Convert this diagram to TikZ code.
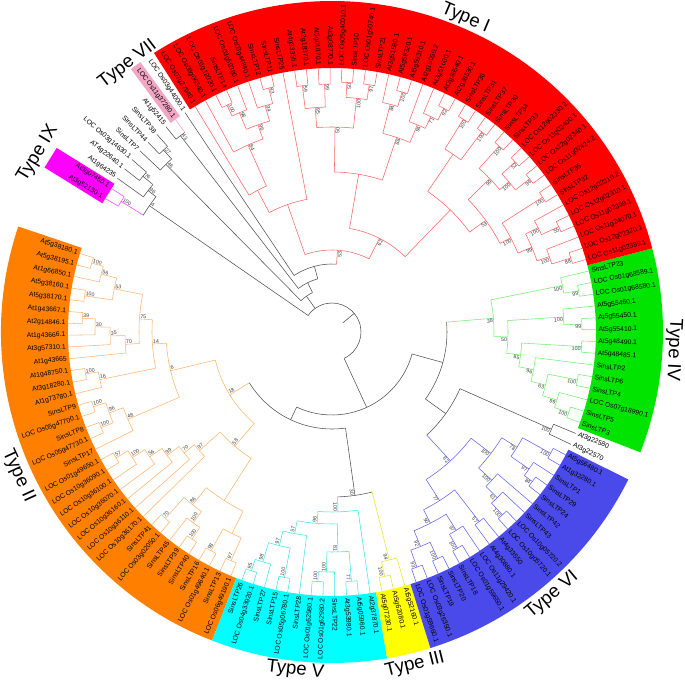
\documentclass[tikz,border=0pt]{standalone}
\usepackage{fontspec}
\setmainfont{Liberation Sans}
\definecolor{redB}{HTML}{FF0000}
\definecolor{redL}{HTML}{FF6464}
\definecolor{orgB}{HTML}{FF8000}
\definecolor{orgL}{HTML}{FFB46E}
\definecolor{cyaB}{HTML}{00FFFF}
\definecolor{cyaL}{HTML}{3CE6E6}
\definecolor{yelB}{HTML}{FFFF00}
\definecolor{yelL}{HTML}{E6E628}
\definecolor{bluB}{HTML}{4A4AEA}
\definecolor{bluL}{HTML}{6464F0}
\definecolor{grnB}{HTML}{00E400}
\definecolor{grnL}{HTML}{6EEE6E}
\definecolor{magB}{HTML}{FF00FF}
\definecolor{magL}{HTML}{FF46FF}
\definecolor{pnkB}{HTML}{F2A6C4}
\definecolor{gryL}{HTML}{505050}
\definecolor{bsG}{HTML}{404040}
\newcount\bscount
% bootstrap value at a node
\newcommand\bsl[3]{\if\relax\detokenize{#3}\relax\else
 \pgfmathsetmacro\myBc{cos(#1)}\global\advance\bscount by 1
 \ifdim\myBc pt>0pt \node[bst,rotate=#1,anchor=north east] (bs\the\bscount) at (#1:#2) {#3};%
 \else \node[bst,rotate=#1+180,anchor=south west] (bs\the\bscount) at (#1:#2) {#3};\fi\fi}
% internal node: style, child pos a, child pos b, radius, parent radius, bootstrap
\newcommand\cl[6]{%
 \pgfmathsetmacro\myTa{162.7+2.569*(#2)}%
 \pgfmathsetmacro\myTb{162.7+2.569*(#3)}%
 \pgfmathsetmacro\myTm{162.7+2.569*((#2)+(#3))/2}%
 \draw[#1] (\myTa:#4) arc[start angle=\myTa, end angle=\myTb, radius=#4pt];%
 \draw[#1] (\myTm:#5) -- (\myTm:#4);%
 \bsl{\myTm}{#4}{#6}}
% leaf branch
\newcommand\lv[3]{\pgfmathsetmacro\myTl{162.7+2.569*(#2)}\draw[#1] (\myTl:#3) -- (\myTl:264);}
% leaf label
\newcommand\lb[2]{%
 \pgfmathsetmacro\myLt{162.7+2.569*(#1)}\pgfmathsetmacro\myLc{cos(\myLt)}%
 \ifdim\myLc pt>0pt \node[lbl,rotate=\myLt,anchor=west] (lf#1) at (\myLt:266.5) {#2};%
 \else \node[lbl,rotate=\myLt+180,anchor=east] (lf#1) at (\myLt:266.5) {#2};\fi}
% colour band
\newcommand\band[3]{%
 \pgfmathsetmacro\myBa{162.7+2.569*(#2)}\pgfmathsetmacro\myBb{162.7+2.569*(#3)}%
 \fill[#1] (\myBa:264) arc[start angle=\myBa,end angle=\myBb,radius=264pt] -- (\myBb:331) arc[start angle=\myBb,end angle=\myBa,radius=331pt] -- cycle;}
\begin{document}
\begin{tikzpicture}[x=1pt,y=1pt,
 br/.style={line width=0.55pt},
 cR/.style={br,draw=redL}, cO/.style={br,draw=orgL}, cC/.style={br,draw=cyaL},
 cY/.style={br,draw=yelL}, cB/.style={br,draw=bluL}, cG/.style={br,draw=grnL},
 cK/.style={br,draw=gryL}, cM/.style={br,draw=magL}, cP/.style={br,draw=pnkB},
 bst/.style={font=\fontsize{5.3}{6}\selectfont,text=bsG,inner sep=0.6pt},
 lbl/.style={font=\fontsize{6.8}{7}\selectfont,inner sep=0pt},
 ttl/.style={font=\fontsize{18.5}{20}\selectfont,inner sep=0pt}]
\useasboundingbox (-332,-350) rectangle (353,332);
% ---------- bands
\band{orgB}{-0.5}{33.5}
\band{cyaB}{33.5}{45.5}
\band{yelB}{45.5}{48.5}
\band{bluB}{48.5}{66.5}
\band{grnB}{68.5}{82.5}
\band{redB}{82.5}{124.5}
\begin{scope}[rotate={162.7+2.569*134.5}]
 \fill[magB] (263,-11.5) rectangle (331,11.5);
\end{scope}
\begin{scope}[rotate={162.7+2.569*126}]
 \fill[pnkB] (264,-5.8) rectangle (331,5.8);
\end{scope}
% ---------- Type I (red)
\cl{cR}{99}{100}{250}{215}{100}
\cl{cR}{97}{98}{250}{215}{100}
\cl{cR}{97.5}{99.5}{215}{170}{}
\cl{cR}{91}{92}{250}{232}{94}
\cl{cR}{93}{94}{250}{232}{52}
\cl{cR}{91.5}{93.5}{232}{220}{100}
\cl{cR}{95}{96}{250}{220}{100}
\cl{cR}{92.5}{95.5}{220}{190}{99}
\cl{cR}{86}{87}{250}{231}{55}
\cl{cR}{86.5}{88}{231}{217}{100}
\cl{cR}{83}{84}{250}{230}{88}
\cl{cR}{83.5}{85}{230}{217}{100}
\cl{cR}{84.25}{87.25}{217}{202}{99}
\cl{cR}{89}{90}{250}{202}{100}
\cl{cR}{85.75}{89.5}{202}{190}{100}
\cl{cR}{87.625}{94}{190}{170}{53}
\cl{cR}{90.8125}{98.5}{170}{105}{}
\cl{cR}{101}{102}{250}{237}{92}
\cl{cR}{101.5}{103}{237}{224}{71}
\cl{cR}{102.25}{104}{224}{205}{94}
\cl{cR}{105}{106}{250}{235}{100}
\cl{cR}{105.5}{107}{235}{205}{84}
\cl{cR}{103.125}{106.25}{205}{160}{88}
\cl{cR}{110}{111}{250}{235}{50}
\cl{cR}{108}{109}{250}{235}{97}
\cl{cR}{108.5}{110.5}{235}{205}{100}
\cl{cR}{112}{113}{248}{225}{99}
\cl{cR}{114}{115}{248}{225}{59}
\cl{cR}{112.5}{114.5}{225}{205}{95}
\cl{cR}{109.5}{113.5}{205}{160}{50}
\cl{cR}{104.6875}{111.5}{160}{105}{}
\cl{cR}{94.65625}{108.09375}{105}{82}{62}
\cl{cR}{117}{118}{252}{236}{93}
\cl{cR}{117.5}{119}{236}{220}{94}
\cl{cR}{121}{122}{250}{238}{100}
\cl{cR}{120}{121.5}{238}{220}{98}
\cl{cR}{118.25}{120.75}{220}{205}{96}
\cl{cR}{119.5}{123}{205}{160}{84}
\cl{cR}{121.25}{124}{160}{135}{}
\cl{cR}{116}{122.625}{135}{82}{}
\cl{cR}{101.375}{119.3125}{82}{68}{53}
\foreach \k/\p in {83/250,84/250,85/230,86/250,87/250,88/231,89/250,90/250,91/250,92/250,93/250,94/250,95/250,96/250,97/250,98/250,99/250,100/250,101/250,102/250,103/237,104/224,105/250,106/250,107/235,108/250,109/250,110/250,111/250,112/248,113/248,114/248,115/248,116/135,117/252,118/252,119/236,120/238,121/250,122/250,123/205,124/160}{\lv{cR}{\k}{\p}}
% ---------- unclassified, Type VII, Type IX
\cl{cK}{110.34375}{125}{68}{55}{}
\cl{cK}{126}{127}{248}{55}{43}
\cl{cK}{117.671875}{126.5}{55}{44}{}
\cl{cK}{128}{129}{248}{236}{27}
\cl{cK}{128.5}{130}{236}{44}{46}
\cl{cK}{122.0859375}{129.25}{44}{29}{}
\cl{cK}{131}{132}{245}{232}{76}
\cl{cK}{131.5}{133}{232}{222}{96}
\cl{cM}{134}{135}{248}{222}{100}
\cl{cK}{132.25}{134.5}{222}{29}{4}
\lv{cK}{125}{68}
\lv{cP}{126}{248}
\foreach \k/\p in {127/248,128/248,129/248,130/236,131/245,132/245,133/232}{\lv{cK}{\k}{\p}}
\lv{cM}{134}{248}
\lv{cM}{135}{248}
% ---------- Type II (orange)
\cl{cO}{0}{1}{250}{238}{100}
\cl{cO}{0.5}{2}{238}{222}{56}
\cl{cO}{3}{4}{250}{222}{100}
\cl{cO}{1.25}{3.5}{222}{193}{53}
\cl{cO}{5}{6}{250}{237}{39}
\cl{cO}{5.5}{7}{237}{222}{30}
\cl{cO}{6.25}{8}{222}{207}{35}
\cl{cO}{7.125}{9}{207}{193}{70}
\cl{cO}{2.375}{8.0625}{193}{180}{75}
\cl{cO}{10}{11}{250}{237}{100}
\cl{cO}{10.5}{12}{237}{180}{16}
\cl{cO}{5.21875}{11.25}{180}{166}{14}
\cl{cO}{13}{14}{250}{237}{100}
\cl{cO}{15}{16}{250}{237}{100}
\cl{cO}{13.5}{15.5}{237}{222}{96}
\cl{cO}{14.5}{17}{222}{166}{48}
\cl{cO}{8.234375}{15.75}{166}{120}{6}
\cl{cO}{18}{19}{250}{236}{57}
\cl{cO}{18.5}{20}{236}{221}{100}
\cl{cO}{19.25}{21}{221}{206}{56}
\cl{cO}{20.125}{22}{206}{191}{99}
\cl{cO}{21.0625}{23}{191}{178}{70}
\cl{cO}{22.03125}{24}{178}{150}{97}
\cl{cO}{25}{26}{250}{222}{70}
\cl{cO}{28}{29}{250}{236}{100}
\cl{cO}{27}{28.5}{236}{222}{100}
\cl{cO}{25.5}{27.75}{222}{200}{86}
\cl{cO}{30}{31}{250}{225}{98}
\cl{cO}{32}{33}{250}{225}{97}
\cl{cO}{30.5}{32.5}{225}{200}{}
\cl{cO}{26.625}{31.5}{200}{150}{}
\cl{cO}{23.015625}{29.0625}{150}{120}{58}
\cl{cO}{11.9921875}{26.0390625}{120}{97}{18}
\foreach \k/\p in {0/250,1/250,2/238,3/250,4/250,5/250,6/250,7/237,8/222,9/207,10/250,11/250,12/237,13/250,14/250,15/250,16/250,17/222,18/250,19/250,20/236,21/221,22/206,23/191,24/178,25/250,26/250,27/236,28/250,29/250,30/250,31/250,32/250,33/250}{\lv{cO}{\k}{\p}}
% ---------- Type V (cyan) and Type III (yellow)
\cl{cC}{34}{35}{252}{240}{95}
\cl{cC}{34.5}{36}{240}{220}{98}
\cl{cC}{37}{38}{250}{220}{100}
\cl{cC}{35.25}{37.5}{220}{205}{97}
\cl{cC}{36.375}{39}{205}{192}{57}
\cl{cC}{40}{41}{250}{240}{100}
\cl{cC}{40.5}{42}{240}{220}{100}
\cl{cC}{43}{44}{250}{220}{77}
\cl{cC}{41.25}{43.5}{220}{192}{81}
\cl{cC}{37.6875}{42.375}{192}{180}{96}
\cl{cC}{40.03125}{45}{180}{165}{100}
\foreach \k/\p in {34/252,35/252,36/240,37/250,38/250,39/205,40/250,41/250,42/240,43/250,44/250,45/180}{\lv{cC}{\k}{\p}}
\cl{cY}{46}{47}{250}{235}{100}
\cl{cY}{46.5}{48}{235}{165}{94}
\foreach \k/\p in {46/250,47/250,48/235}{\lv{cY}{\k}{\p}}
\cl{cK}{42.515625}{47.25}{165}{97}{30}
\cl{cK}{19.015625}{44.8828125}{97}{83}{}
% ---------- Type VI (blue)
\cl{cB}{49}{50}{250}{232}{93}
\cl{cB}{51}{52}{250}{232}{100}
\cl{cB}{49.5}{51.5}{232}{215}{92}
\cl{cB}{53}{54}{250}{234}{100}
\cl{cB}{53.5}{55}{234}{215}{97}
\cl{cB}{50.5}{54.25}{215}{200}{90}
\cl{cB}{56}{57}{240}{200}{57}
\cl{cB}{52.375}{56.5}{200}{175}{77}
\cl{cB}{58}{59}{250}{234}{100}
\cl{cB}{58.5}{60}{234}{218}{61}
\cl{cB}{59.25}{61}{218}{200}{100}
\cl{cB}{62}{63}{250}{240}{84}
\cl{cB}{62.5}{64}{240}{218}{97}
\cl{cB}{65}{66}{250}{218}{100}
\cl{cB}{63.25}{65.5}{218}{200}{78}
\cl{cB}{60.125}{64.375}{200}{175}{100}
\cl{cB}{54.4375}{62.25}{175}{140}{82}
\foreach \k/\p in {49/250,50/250,51/250,52/250,53/250,54/250,55/234,56/240,57/240,58/250,59/250,60/234,61/218,62/250,63/250,64/240,65/250,66/250}{\lv{cB}{\k}{\p}}
\cl{cK}{67}{68}{240}{140}{100}
\lv{cK}{67}{240}
\lv{cK}{68}{240}
\cl{cK}{58.34375}{67.5}{140}{115}{}
% ---------- Type IV (green)
\cl{cG}{80}{81}{250}{235}{99}
\cl{cG}{80.5}{82}{235}{162}{100}
\cl{cG}{77}{78}{250}{232}{99}
\cl{cG}{77.5}{79}{232}{176}{100}
\cl{cG}{75}{76}{250}{190}{100}
\cl{cG}{72}{73}{250}{220}{100}
\cl{cG}{69}{70}{250}{235}{100}
\cl{cG}{69.5}{71}{235}{220}{99}
\cl{cG}{70.25}{72.5}{220}{205}{63}
\cl{cG}{71.375}{74}{205}{190}{96}
\cl{cG}{72.6875}{75.5}{190}{176}{85}
\cl{cG}{74.09375}{78.25}{176}{162}{50}
\cl{cG}{76.171875}{81.25}{162}{115}{38}
\foreach \k/\p in {69/250,70/250,71/235,72/250,73/250,74/205,75/250,76/250,77/250,78/250,79/232,80/250,81/250,82/235}{\lv{cG}{\k}{\p}}
% ---------- backbone
\cl{cK}{62.921875}{78.7109375}{115}{83}{}
\cl{cK}{31.94921875}{70.81640625}{83}{29}{}
\cl{cK}{51.3828125}{133.375}{29}{14}{}
% ---------- leaf labels
\lb{0}{At5g38180.1}\lb{1}{At5g38195.1}\lb{2}{At1g66850.1}\lb{3}{At5g38160.1}
\lb{4}{At5g38170.1}\lb{5}{At1g43667.1}\lb{6}{At2g14846.1}\lb{7}{At1g43666.1}
\lb{8}{At3g57310.1}\lb{9}{At1g43665}\lb{10}{At1g48750.1}\lb{11}{At3g18280.1}
\lb{12}{At1g73780.1}\lb{13}{SinsLTP9}\lb{14}{LOC Os05g47700.1}\lb{15}{SinsLTP8}
\lb{16}{LOC Os05g47730.1}\lb{17}{SinsLTP17}\lb{18}{LOC Os01g49650.1}\lb{19}{LOC Os10g36090.1}
\lb{20}{LOC Os10g36100.1}\lb{21}{LOC Os10g36070.1}\lb{22}{LOC Os10g36160.1}\lb{23}{LOC Os10g36110.1}
\lb{24}{LOC Os10g36170.1}\lb{25}{SinsLTP41}\lb{26}{LOC Os03g02050.1}\lb{27}{SinsLTP45}
\lb{28}{SinsLTP39}\lb{29}{SinsLTP40}\lb{30}{SinsLTP16}\lb{31}{LOC Os01g49640.1}
\lb{32}{SinsLTP13}\lb{33}{LOC Os06g49190.1}
\lb{34}{SinsLTP26}\lb{35}{LOC Os04g33920.1}\lb{36}{SinsLTP27}\lb{37}{SinsLTP15}
\lb{38}{LOC Os05g06780.1}\lb{39}{SinsLTP28}\lb{40}{LOC Os01g62980.1}\lb{41}{LOC Os01g62980.2}
\lb{42}{SinsLTP22}\lb{43}{At3g53980.1}\lb{44}{At5g05960.1}\lb{45}{At2g37870.1}
\lb{46}{At5g07230.1}\lb{47}{At5g62080.1}\lb{48}{At5g52160.1}
\lb{49}{LOC Os01g59660.1}\lb{50}{LOC Os03g26350.1}\lb{51}{SinsLTP19}\lb{52}{SinsLTP20}
\lb{53}{SinsLTP18}\lb{54}{LOC Os01g59650.1}\lb{55}{LOC Os11g29420.1}\lb{56}{At4g30880.1}
\lb{57}{At4g33550}\lb{58}{LOC Os10g05720.1}\lb{59}{LOC Os10g05720.2}\lb{60}{SinsLTP43}
\lb{61}{SinsLTP42}\lb{62}{SinsLTP24}\lb{63}{SinsLTP29}\lb{64}{SinsLTP1}
\lb{65}{At1g32280.1}\lb{66}{At5g56480.1}\lb{67}{At3g22570}\lb{68}{At3g22580}
\lb{69}{SinsLTP3}\lb{70}{SinsLTP5}\lb{71}{LOC Os07g18990.1}\lb{72}{SinsLTP4}
\lb{73}{SinsLTP6}\lb{74}{SinsLTP2}\lb{75}{At5g48485.1}\lb{76}{At5g48490.1}
\lb{77}{At5g55410.1}\lb{78}{At5g55450.1}\lb{79}{At5g55460.1}\lb{80}{LOC Os01g68580.1}
\lb{81}{LOC Os01g68589.1}\lb{82}{SinsLTP23}
\lb{83}{LOC Os11g02389.1}\lb{84}{LOC Os12g02320.1}\lb{85}{LOC Os11g24070.1}\lb{86}{LOC Os11g02369.1}
\lb{87}{LOC Os12g02310.1}\lb{88}{LOC Os12g02310.2}\lb{89}{SinsLTP32}\lb{90}{SinsLTP35}
\lb{91}{LOC Os11g02424.2}\lb{92}{LOC Os12g02340.1}\lb{93}{LOC Os11g02400.1}\lb{94}{LOC Os12g02330.2}
\lb{95}{SinsLTP33}\lb{96}{SinsLTP34}\lb{97}{SinsLTP30}\lb{98}{SinsLTP37}
\lb{99}{SinsLTP31}\lb{100}{SinsLTP36}\lb{101}{At2g38530.1}\lb{102}{At2g38540.1}
\lb{103}{At3g51600.1}\lb{104}{At2g15050.2}\lb{105}{At5g59310.1}\lb{106}{At5g59320.1}
\lb{107}{At3g51590.1}\lb{108}{SinsLTP21}\lb{109}{LOC Os01g50740.1}\lb{110}{SinsLTP10}
\lb{111}{LOC Os05g40010.1}\lb{112}{At3g08770.1}\lb{113}{At5g01870.1}\lb{114}{At2g18370.1}
\lb{115}{At4g33355.1}\lb{116}{SinsLTP25}\lb{117}{SinsLTP11}\lb{118}{SinsLTP12}
\lb{119}{LOC Os03g44840.1}\lb{120}{LOC Os03g59380.1}\lb{121}{SinsLTP14}\lb{122}{LOC Os01g12020.1}
\lb{123}{LOC Os08g06340.1}\lb{124}{LOC Os07g27940.1}
\lb{125}{LOC Os03g44000.1}\lb{126}{LOC Os11g37280.1}\lb{127}{At1g52415}\lb{128}{SinsLTP38}
\lb{129}{SinsLTP44}\lb{130}{SinsLTP7}\lb{131}{LOC Os03g14630.1}\lb{132}{AT4g22640.1}
\lb{133}{At1g64235}\lb{134}{At3g07450.1}\lb{135}{At3g52130.1}
% ---------- group titles
\node[ttl,rotate=-23] (tI) at (67:341) {Type I};
\node[ttl,rotate=37.3] (tVII) at (127.3:337) {Type VII};
\node[ttl,rotate=58.8] (tIX) at (148.8:344) {Type IX};
\node[ttl,rotate=-65.4] (tII) at (204.6:345) {Type II};
\node[ttl,rotate=-6.2] (tV) at (263.8:340) {Type V};
\node[ttl,rotate=14] (tIII) at (284:343) {Type III};
\node[ttl,rotate=39.9] (tVI) at (309.9:343) {Type VI};
\node[ttl,rotate=-93] (tIV) at (-3:342) {Type IV};
\end{tikzpicture}
\end{document}
